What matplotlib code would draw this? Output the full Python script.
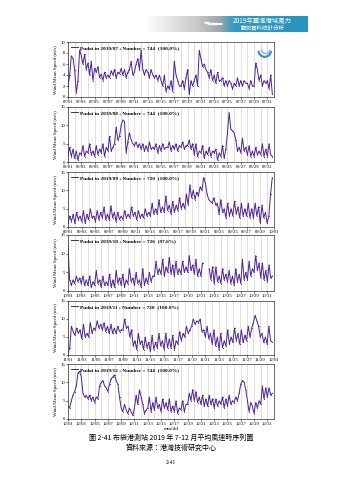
import numpy as np
import matplotlib
matplotlib.use("Agg")
import matplotlib.pyplot as plt
from matplotlib.patches import Arc, Circle

nan = np.nan
# 6-hourly readings of hourly wind mean speed (m/s)
jul = [2.0,4.0,7.5,7.0, 5.0,0.8,3.0,8.5, 7.5,6.0,7.8,5.0, 6.2,4.0,6.5,3.0, 5.2,4.5,5.5,3.5,
       4.2,3.0,4.5,3.5, 4.0,3.5,4.8,4.0, 5.0,3.5,4.5,4.2, 5.2,4.0,5.0,3.5, 4.5,5.0,6.5,4.0,
       4.5,6.0,7.0,5.0, 8.5,5.0,4.0,5.0, 4.5,3.5,5.0,4.0, 3.5,4.0,3.0,4.0, 3.0,2.0,4.0,1.0,
       2.0,1.5,3.0,1.0, 6.5,4.0,3.0,2.0, 2.0,3.0,1.5,3.5, 5.0,0.5,3.0,2.0, 3.0,4.0,2.0,8.5,
       7.0,5.5,6.0,5.0, 4.5,3.5,5.0,3.0, 4.0,2.5,4.5,3.0, 3.0,3.5,2.0,3.0, 2.0,3.0,2.5,1.5,
       2.5,2.0,3.5,2.0, 3.0,2.0,3.0,2.5, 2.5,1.5,3.0,2.0, 2.0,6.2,5.0,3.0, 4.0,2.0,3.0,2.5,
       3.0,1.5,4.0,0.5]
aug = [2.0,4.0,1.5,3.5, 1.0,3.0,0.5,2.5, 2.0,4.5,1.5,3.0, 2.5,5.0,2.0,3.0, 1.5,4.5,2.0,3.5,
       2.5,5.0,1.5,4.0, 3.0,7.0,3.0,4.0, 5.0,9.5,6.0,7.0, 10.0,11.5,11.0,2.5, 5.5,8.0,6.0,5.0,
       4.5,5.5,4.0,5.0, 3.5,5.0,3.0,4.5, 3.0,5.5,3.5,4.0, 3.5,5.0,2.5,4.5, 3.0,5.0,3.5,4.0,
       4.0,5.5,3.0,4.5, 3.5,5.0,3.0,4.5, 4.0,5.5,3.5,4.5, 4.5,6.0,3.5,5.0, 2.0,5.0,1.5,3.0,
       2.5,4.5,1.0,3.0, 2.0,4.0,1.5,3.0, 2.5,3.5,0.5,2.5, 1.5,4.5,1.0,3.5, 8.0,13.5,9.0,8.5,
       8.0,6.0,3.0,4.0, 2.5,6.5,3.0,4.0, 2.0,4.5,1.5,3.0, 1.5,4.0,2.0,3.0, 2.0,5.0,1.5,3.5,
       1.5,5.0,2.0,1.5]
sep = [1.0,3.0,1.5,3.5, 1.0,4.0,2.0,3.0, 1.5,4.5,1.0,3.5, 2.0,5.0,2.5,3.0, 1.5,4.5,2.0,4.0,
       2.5,5.5,2.0,3.5, 2.0,5.8,2.5,4.0, 1.5,4.0,2.0,3.0, 2.0,4.5,2.5,3.5, 2.5,5.5,3.0,4.0,
       2.0,4.5,2.5,3.5, 2.5,5.0,3.0,4.0, 3.0,6.5,3.5,5.0, 3.5,7.5,4.0,5.5, 4.0,8.5,4.5,6.0,
       3.5,7.0,4.0,6.0, 4.5,8.0,5.0,6.5, 5.0,9.0,6.0,11.5, 8.0,10.0,7.5,9.5, 8.5,11.0,10.0,13.5,
       12.0,9.0,7.5,7.0, 6.5,8.0,6.0,6.5, 3.5,7.5,4.0,5.0, 2.5,6.5,3.0,5.0, 3.0,7.0,3.5,5.5,
       2.5,6.5,3.0,5.0, 3.0,6.5,2.5,5.0, 2.5,6.5,3.0,5.5, 1.0,6.0,2.5,4.0, 1.0,3.0,9.0,13.5]
oct_ = [12.0,3.0,1.5,3.0, 2.0,4.0,2.5,3.5, 2.0,4.0,1.5,3.0, 1.5,4.0,1.0,2.5, 1.5,5.5,2.0,3.0,
        1.0,4.0,1.5,2.5, 1.5,4.5,1.0,3.0, 1.0,5.5,2.0,3.5, 1.5,4.5,1.0,3.0, 2.0,6.0,2.5,3.5,
        1.5,5.0,2.0,3.0, 1.0,6.0,1.5,3.5, 2.0,5.0,2.5,4.0, 4.0,8.0,4.5,6.0, 4.5,8.5,4.0,6.5,
        5.0,9.0,4.5,7.0, 4.0,8.0,4.5,6.0, 4.5,8.0,5.0,6.5, 5.0,9.5,5.5,7.0, 4.5,8.5,4.0,6.0,
        4.0,7.5,nan,nan, nan,6.0,3.0,6.5, 2.0,6.5,2.5,4.0, 2.0,6.0,3.0,4.5, 2.5,5.5,2.0,4.0,
        1.5,6.0,2.5,4.5, 2.0,8.5,3.0,5.0, 3.0,8.0,4.0,6.0, 5.0,9.5,5.5,7.5, 3.5,7.5,3.0,5.5,
        2.5,7.0,3.5,4.0]
nov = [0.5,2.0,8.0,6.5, 5.5,7.5,6.0,7.0, 4.5,8.5,5.0,6.0, 5.0,9.0,6.0,7.5, 7.0,9.5,7.5,8.5,
       7.0,9.0,6.5,8.0, 6.0,8.5,6.0,7.5, 6.0,8.0,6.5,7.0, 7.0,10.0,7.5,8.0, 5.0,7.0,2.5,4.0,
       1.5,6.0,3.0,4.0, 1.5,5.0,2.0,3.5, 1.0,5.5,1.5,3.5, 2.0,6.0,2.5,4.0, 1.5,6.0,2.0,4.5,
       2.0,5.5,1.5,4.0, 3.0,6.5,4.0,6.0, 5.0,8.0,6.0,7.0, 8.0,10.0,8.5,9.5, 9.0,10.0,6.5,7.0,
       5.0,8.0,4.5,6.0, 3.0,7.0,2.5,5.0, 1.5,6.0,2.0,4.0, 2.5,7.0,3.0,5.0, 3.5,7.5,4.0,6.0,
       3.0,7.0,3.5,5.5, 4.0,8.0,5.0,7.5, 9.0,11.0,9.5,8.0, 5.0,6.0,3.5,5.0, 3.0,8.0,4.0,3.5]
dec = [3.5,3.0,5.0,6.5, 7.5,9.0,12.5,13.0, 11.5,7.0,6.0,6.5, 5.5,6.5,5.0,6.0, 4.5,6.0,5.5,9.0,
       10.0,10.5,9.0,8.5, 7.5,9.5,11.0,11.5, 12.0,10.5,9.5,6.0, 3.0,2.0,4.0,2.5, 1.5,3.0,2.0,1.0,
       3.0,6.5,4.0,8.0, 6.0,4.0,1.5,2.5, 3.0,6.0,2.0,4.5, 2.5,6.0,3.0,4.0, 2.0,5.5,3.0,4.5,
       2.5,5.5,2.0,3.5, 2.0,5.0,1.5,3.0, 2.5,5.0,2.0,4.0, 4.0,7.0,5.0,8.0, 5.0,7.5,4.5,6.0,
       4.0,6.5,3.5,5.5, 3.5,6.5,4.0,5.5, 3.0,5.5,3.5,5.0, 4.0,6.0,3.0,5.5, 3.5,6.5,4.0,5.0,
       4.5,6.0,5.0,7.0, 9.5,10.5,10.0,8.0, 5.0,2.0,4.5,3.5, 1.5,4.5,3.0,5.0, 4.0,9.0,5.5,8.5,
       6.0,8.5,6.5,7.0]

months = ["2019/07", "2019/08", "2019/09", "2019/10", "2019/11", "2019/12"]
month_nums = [7, 8, 9, 10, 11, 12]
days_in_month = [31, 31, 30, 31, 30, 31]
numbers = [744, 744, 720, 726, 720, 744]
percents = ["100.0%", "100.0%", "100.0%", "97.6%", "100.0%", "100.0%"]
series = [jul, aug, sep, oct_, nov, dec]
ymax = [10, 15, 15, 15, 15, 15]
yticks = [[0, 2, 4, 6, 8, 10], [0, 5, 10, 15], [0, 5, 10, 15], [0, 5, 10, 15], [0, 5, 10, 15], [0, 5, 10, 15]]

W, H = 339, 480
fig = plt.figure(figsize=(W / 100, H / 100), dpi=100)
fig.patch.set_facecolor("white")

serif = ["Liberation Serif", "DejaVu Serif"]
cjk = ["Noto Sans CJK TC", "DejaVu Sans"]

# header banner (white -> gray -> teal)
bax = fig.add_axes([145 / W, 1 - 32 / H, (308 - 145) / W, 16 / H])
grad = np.linspace(0, 1, 256)
stops = np.array([0.0, 0.30, 0.45, 0.55, 1.0])
cols = np.array([[1.0, 1.0, 1.0], [0.80, 0.80, 0.80], [0.62, 0.66, 0.68], [0.20, 0.60, 0.76], [0.16, 0.58, 0.74]])
img = np.stack([np.interp(grad, stops, cols[:, k]) for k in range(3)], axis=1)
img = np.tile(img[None, :, :], (8, 1, 1))
bax.imshow(img, aspect="auto", extent=[0, 1, 0, 1])
bax.set_xlim(0, 1); bax.set_ylim(0, 1); bax.axis("off")
bax.add_patch(Circle((0.42, 0.50), 0.035, transform=bax.transAxes, color="white", alpha=0.85))
bax.add_patch(Circle((0.46, 0.50), 0.012, transform=bax.transAxes, color="white"))
bax.add_patch(Circle((0.38, 0.58), 0.012, transform=bax.transAxes, color="white"))
bax.text(0.72, 0.70, "2019年臺灣港域風力", color="white", fontsize=4.6, ha="center", va="center", family=cjk)
bax.text(0.72, 0.28, "觀測資料統計分析", color="white", fontsize=4.0, ha="center", va="center", family=cjk)

tops = [42, 107, 172, 235, 301, 364]
bots = [97, 162, 227, 291, 355, 419]
left, right = 68, 274
line_col = "#4e2396"

for i in range(6):
    ax = fig.add_axes([left / W, 1 - bots[i] / H, (right - left) / W, (bots[i] - tops[i]) / H])
    vals = np.array(series[i], dtype=float)
    nd = days_in_month[i]
    x = np.arange(len(vals)) / 4.0
    ax.plot(x, vals, color=line_col, lw=0.7, marker=".", ms=1.5, mew=0,
            label=f"Pudai in {months[i]} ; Number = {numbers[i]}  ({percents[i]})")
    ax.set_xlim(0, nd)
    ax.set_ylim(0, ymax[i])
    ax.set_yticks(yticks[i])
    ticks = list(range(0, nd + 1, 2))
    labels = []
    for d in ticks:
        if d < nd:
            labels.append(f"{month_nums[i]:02d}/{d + 1:02d}")
        else:
            labels.append(f"{month_nums[i] % 12 + 1:02d}/01")
    ax.set_xticks(ticks)
    ax.set_xticklabels(labels)
    ax.set_xticks(range(0, nd + 1), minor=True)
    ax.grid(True, axis="x", which="both", color="#c8c8c8", lw=0.4)
    ax.set_axisbelow(True)
    ax.tick_params(labelsize=3.4, length=1.2, width=0.4, pad=1, which="major")
    ax.tick_params(which="minor", length=0)
    for lab in ax.get_xticklabels() + ax.get_yticklabels():
        lab.set_family(serif)
    for s in ax.spines.values():
        s.set_linewidth(0.5); s.set_color("#333333")
    ax.set_ylabel("Wind Mean Speed (m/s)", fontsize=3.6, family=serif, labelpad=1.5)
    ax.legend(loc="upper left", frameon=False, handlelength=1.4,
              borderaxespad=0.15, handletextpad=0.3, prop={"family": serif, "size": 3.8, "weight": "bold"})
    if i == 0:
        ax.add_patch(Arc((0.955, 0.84), 0.06, 0.22, theta1=180, theta2=360, transform=ax.transAxes,
                         color="#3c8fd0", lw=1.6))
        ax.add_patch(Arc((0.96, 0.86), 0.04, 0.14, theta1=160, theta2=340, transform=ax.transAxes,
                         color="#7fb8e6", lw=1.0))
    if i == 5:
        ax.set_xlabel("mm/dd", fontsize=3.8, family=serif, labelpad=1)

fig.text(171 / W, 1 - 438 / H, "圖 2-41 布袋港測站 2019 年 7-12 月平均風速時序列圖",
         fontsize=5.0, ha="center", va="center", family=cjk)
fig.text(171 / W, 1 - 448 / H, "資料來源：港灣技術研究中心",
         fontsize=5.0, ha="center", va="center", family=cjk)
fig.text(171 / W, 1 - 463 / H, "2-41", fontsize=4.0, ha="center", va="center", family=serif)

fig.savefig("out.png", dpi=100)
